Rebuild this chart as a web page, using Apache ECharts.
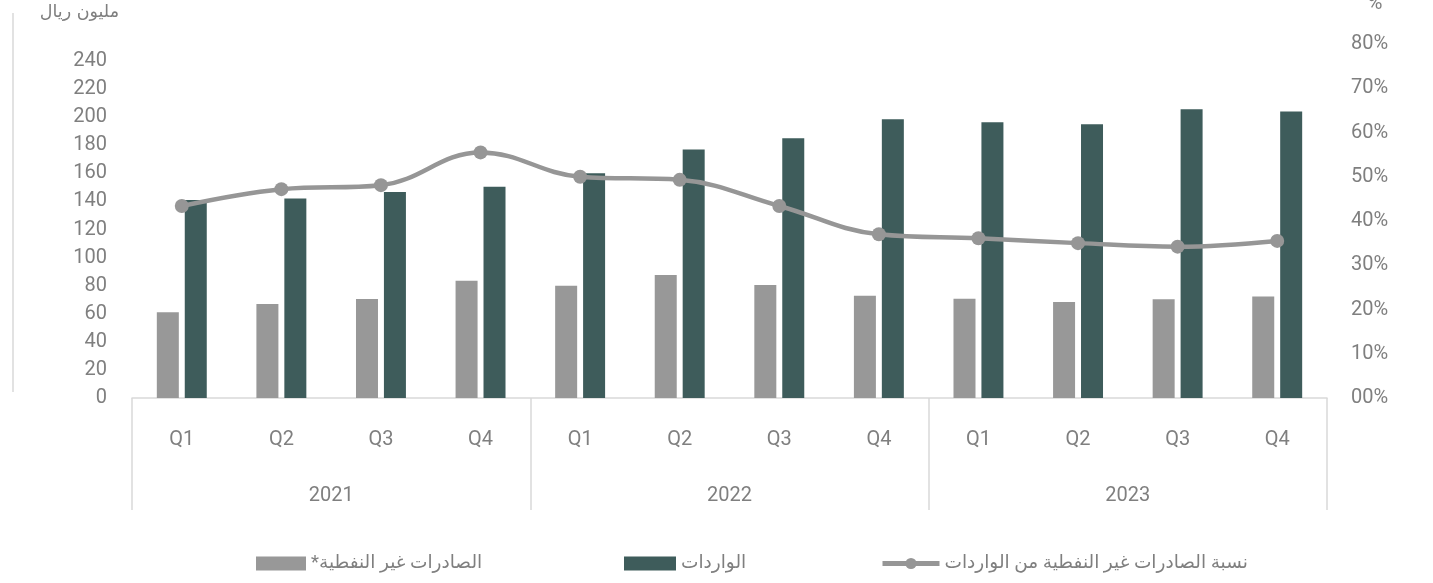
<!DOCTYPE html>
<html>
<head>
<meta charset="utf-8">
<script src="https://cdn.jsdelivr.net/npm/echarts@6/dist/echarts.min.js"></script>
<style>
html,body{margin:0;padding:0;background:#fff;}
#chart{width:1433px;height:583px;}
</style>
</head>
<body>
<div id="chart"></div>
<script>
const quarters = ['Q1','Q2','Q3','Q4','Q1','Q2','Q3','Q4','Q1','Q2','Q3','Q4'];
const years = ['2021','2022','2023'];
const nonOilExports = [61, 67, 70.5, 83.5, 80, 87.6, 80.5, 72.9, 70.7, 68.4, 70.3, 72.2];
const imports = [141, 142, 146.7, 150.5, 160, 177, 185, 198.5, 196.4, 195, 205.6, 204];
const ratioPct = [43.4, 47.2, 48.1, 55.5, 50, 49.3, 43.4, 37.0, 36.1, 35.0, 34.2, 35.5];
const leftTicks = {min: 0, max: 240, interval: 20};
const rightTicks = {min: 0, max: 80, interval: 10};
const names = {
  exports: 'الصادرات غير النفطية*\u200F',
  imports: 'الواردات',
  ratio: 'نسبة الصادرات غير النفطية من الواردات',
  leftUnit: 'مليون ريال',
  rightUnit: '%'
};

const FONT = "Roboto, 'DejaVu Sans', sans-serif";
const LBL = '#7f7f7f';
const chart = echarts.init(document.getElementById('chart'));
chart.setOption({
  animation: false,
  textStyle: {fontFamily: FONT},
  grid: [
    {left: 132, right: 106, top: 61, bottom: 185},
    {left: 132, right: 106, top: 44, bottom: 185}
  ],
  graphic: [
    {type: 'line', shape: {x1: 13, y1: 13, x2: 13, y2: 392}, style: {stroke: '#d9d9d9', lineWidth: 1.5}},
    {type: 'text', style: {text: names.leftUnit, x: 119, y: 12, textAlign: 'right', textVerticalAlign: 'middle', fill: LBL, font: "17.5px 'DejaVu Sans', sans-serif"}},
    {type: 'text', style: {text: names.rightUnit, x: 1375, y: 4, textAlign: 'center', textVerticalAlign: 'middle', fill: LBL, font: "20px Roboto, sans-serif"}}
  ],
  legend: [
    {data: [names.exports], left: 251, top: 549, itemWidth: 50, itemHeight: 14, icon: 'rect',
     textStyle: {color: LBL, fontSize: 18.5, fontFamily: FONT}},
    {data: [names.imports], left: 619, top: 549, itemWidth: 52, itemHeight: 14, icon: 'rect',
     textStyle: {color: LBL, fontSize: 18.5, fontFamily: FONT}},
    {data: [names.ratio], left: 875, top: 549, itemWidth: 57, itemHeight: 14,
     lineStyle: {width: 5, color: '#969696'},
     itemStyle: {color: '#969696'},
     textStyle: {color: LBL, fontSize: 18.5, fontFamily: FONT}}
  ],
  xAxis: [
    {type: 'category', gridIndex: 0, data: quarters,
     axisLine: {lineStyle: {color: '#d9d9d9', width: 1.5}},
     axisTick: {show: false},
     axisLabel: {color: LBL, fontSize: 20, margin: 32, interval: 0}},
    {type: 'category', gridIndex: 0, data: years, position: 'bottom',
     axisLine: {show: false},
     axisTick: {show: true, length: 112, interval: 0, lineStyle: {color: '#d9d9d9', width: 1.5}},
     axisLabel: {color: LBL, fontSize: 20, margin: 88, interval: 0}},
    {type: 'category', gridIndex: 1, data: quarters, show: false}
  ],
  yAxis: [
    {type: 'value', gridIndex: 0, min: leftTicks.min, max: leftTicks.max, interval: leftTicks.interval,
     splitLine: {show: false}, axisLine: {show: false}, axisTick: {show: false},
     axisLabel: {color: LBL, fontSize: 20, margin: 25, padding: [4, 0, 0, 0]}},
    {type: 'value', gridIndex: 1, position: 'right', min: rightTicks.min, max: rightTicks.max, interval: rightTicks.interval,
     splitLine: {show: false}, axisLine: {show: false}, axisTick: {show: false},
     axisLabel: {color: LBL, fontSize: 20, margin: 24, padding: [4, 0, 0, 0],
       formatter: v => String(v).padStart(2, '0') + '%'}}
  ],
  series: [
    {name: names.exports, type: 'bar', xAxisIndex: 0, yAxisIndex: 0, data: nonOilExports,
     barWidth: 22, barGap: '27%', itemStyle: {color: '#989898'}},
    {name: names.imports, type: 'bar', xAxisIndex: 0, yAxisIndex: 0, data: imports,
     barWidth: 22, itemStyle: {color: '#3e5c5b'}},
    {name: names.ratio, type: 'line', xAxisIndex: 2, yAxisIndex: 1, data: ratioPct,
     smooth: 0.4, symbol: 'circle', symbolSize: 14,
     lineStyle: {color: '#969696', width: 4.5}, itemStyle: {color: '#969696'}, z: 5}
  ]
});
</script>
</body>
</html>
